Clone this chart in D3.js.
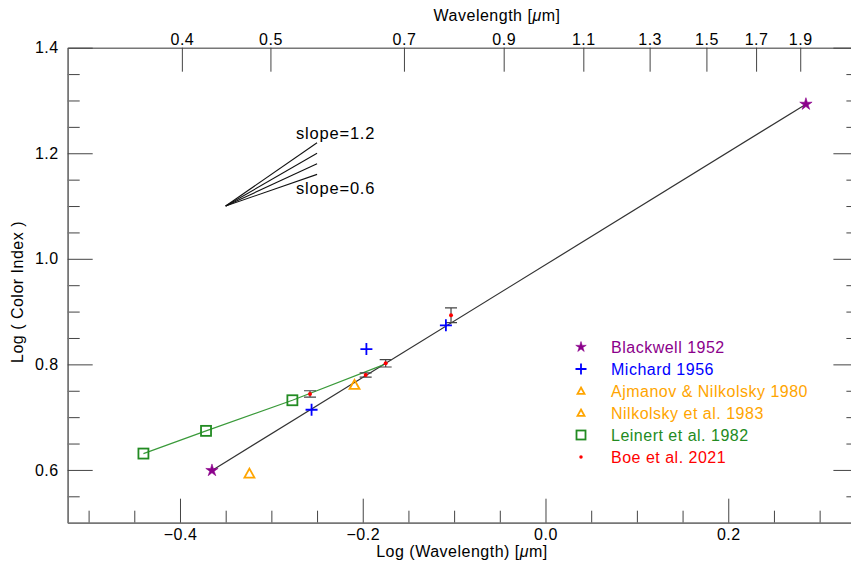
<!DOCTYPE html>
<html><head><meta charset="utf-8">
<script src="https://cdn.jsdelivr.net/npm/d3@7"></script>
<style>body{margin:0;background:#fff}svg{display:block;font-family:"Liberation Sans",Arial,Helvetica,sans-serif}
svg text{letter-spacing:0.5px}</style>
</head><body><svg id="c" width="851" height="566"></svg>
<script>
// ---- data (log10 wavelength [um], log10 color index) ----
const blackwellX = [-0.365, 0.285];
const blackwellY = [0.599, 1.293];
const michardX = [-0.256, -0.196, -0.109];
const michardY = [0.714, 0.829, 0.874];
const ajmanovX = [-0.324];
const ajmanovY = [0.593];
const nilkolskyX = [-0.209];
const nilkolskyY = [0.761];
const leinertX = [-0.440, -0.3715, -0.277];
const leinertY = [0.631, 0.674, 0.732];
const leinertLineX = [-0.440, -0.3715, -0.277, -0.1775];
const leinertLineY = [0.631, 0.674, 0.732, 0.799];
const boeX = [-0.2577, -0.1968, -0.1749, -0.1034];
const boeY = [0.744, 0.780, 0.802, 0.893];
const boeErr = [0.006, 0.004, 0.007, 0.014];
const fitX = [-0.365, 0.285];
const fitY = [0.599, 1.293];
const slopes = [1.2, 1.0, 0.8, 0.6];
const slopeOrigin = [-0.35, 1.10];
const slopeLen = 0.1;
const xMajor = [-0.4, -0.2, 0.0, 0.2];
const xMinor = [-0.5,-0.45,-0.35,-0.3,-0.25,-0.15,-0.1,-0.05,0.05,0.1,0.15,0.25,0.3];
const yMajor = [0.6, 0.8, 1.0, 1.2, 1.4];
const yMinor = [0.55,0.65,0.7,0.75,0.85,0.9,0.95,1.05,1.1,1.15,1.25,1.3,1.35];
const topWl = [0.4, 0.5, 0.7, 0.9, 1.1, 1.3, 1.5, 1.7, 1.9];
const legendNames = ["Blackwell 1952","Michard 1956","Ajmanov & Nilkolsky 1980","Nilkolsky et al. 1983","Leinert et al. 1982","Boe et al. 2021"];
const legendColors = ["#8B008B","#0000FF","#FFA500","#FFA500","#228B22","#FF0000"];
const legendMarks = ["star","plus","tri","tri","square","dot"];

const FS = "16px";
const svg = d3.select("#c");
const x = d3.scaleLinear().domain([Math.log10(0.3), Math.log10(2.2)]).range([67.7, 858.4]);
const y = d3.scaleLinear().domain([0.5, 1.4]).range([522.7, 47.7]);
const X0 = x.range()[0], X1 = x.range()[1], Y0 = y.range()[0], Y1 = y.range()[1];

function styleAxis(g){
  g.select(".domain").attr("stroke","#777").attr("stroke-width",1.5);
  g.selectAll(".tick line").attr("stroke","#444").attr("stroke-width",1);
  g.selectAll(".tick text").attr("fill","#000").style("font-size",FS).style("font-family",'"Liberation Sans",Arial,sans-serif');
}
// bottom
svg.append("g").attr("transform",`translate(0,${Y0})`).call(d3.axisBottom(x).tickValues(xMinor).tickSize(-12).tickFormat("").tickSizeOuter(0)).call(styleAxis);
svg.append("g").attr("transform",`translate(0,${Y0})`).call(d3.axisBottom(x).tickValues(xMajor).tickSize(-24).tickPadding(6).tickFormat(d3.format(".1f")).tickSizeOuter(0)).call(styleAxis);
// top
svg.append("g").attr("transform",`translate(0,${Y1})`).call(d3.axisTop(x).tickValues(topWl.map(Math.log10)).tickSize(-24).tickPadding(3).tickFormat((d,i)=>topWl[i].toFixed(1)).tickSizeOuter(0)).call(styleAxis);
// left
svg.append("g").attr("transform",`translate(${X0},0)`).call(d3.axisLeft(y).tickValues(yMinor).tickSize(-12).tickFormat("").tickSizeOuter(0)).call(styleAxis);
svg.append("g").attr("transform",`translate(${X0},0)`).call(d3.axisLeft(y).tickValues(yMajor).tickSize(-25).tickPadding(9).tickFormat(d3.format(".1f")).tickSizeOuter(0)).call(styleAxis);
// right
svg.append("g").attr("transform",`translate(${X1},0)`).call(d3.axisRight(y).tickValues(yMinor).tickSize(-12).tickFormat("").tickSizeOuter(0)).call(styleAxis);
svg.append("g").attr("transform",`translate(${X1},0)`).call(d3.axisRight(y).tickValues(yMajor).tickSize(-25).tickFormat("").tickSizeOuter(0)).call(styleAxis);

// axis titles
const tt = svg.append("text").attr("x",497).attr("y",21).attr("text-anchor","middle").style("font-size",FS);
tt.append("tspan").text("Wavelength [");
tt.append("tspan").style("font-style","italic").text("\u03bc");
tt.append("tspan").text("m]");
const bt = svg.append("text").attr("x",462).attr("y",557).attr("text-anchor","middle").style("font-size",FS);
bt.append("tspan").text("Log (Wavelength) [");
bt.append("tspan").style("font-style","italic").text("\u03bc");
bt.append("tspan").text("m]");
svg.append("text").attr("transform","translate(23,292) rotate(-90)").attr("text-anchor","middle").style("font-size",FS).text("Log ( Color Index )");

// slope fan
const fan = svg.append("g");
slopes.forEach(s=>{
  fan.append("line").attr("x1",x(slopeOrigin[0])).attr("y1",y(slopeOrigin[1]))
    .attr("x2",x(slopeOrigin[0]+slopeLen)).attr("y2",y(slopeOrigin[1]+s*slopeLen))
    .attr("stroke","#111").attr("stroke-width",1.1);
});
svg.append("text").attr("x",296).attr("y",139).style("font-size","16.5px").style("letter-spacing","0.8px").text("slope=1.2");
svg.append("text").attr("x",296).attr("y",194).style("font-size","16.5px").style("letter-spacing","0.8px").text("slope=0.6");

// fit line
const line = d3.line().x(d=>x(d[0])).y(d=>y(d[1]));
svg.append("path").attr("d",line(d3.zip(fitX,fitY))).attr("fill","none").attr("stroke","#333").attr("stroke-width",1.2);
// Leinert line
svg.append("path").attr("d",line(d3.zip(leinertLineX,leinertLineY))).attr("fill","none").attr("stroke","#3a9a3a").attr("stroke-width",1.2);

function starPath(R){
  const r = R*0.36; let p = "";
  for(let k=0;k<10;k++){
    const a = -Math.PI/2 + k*Math.PI/5, rr = k%2 ? r : R;
    p += (k? "L":"M") + (rr*Math.cos(a)).toFixed(2) + "," + (rr*Math.sin(a)).toFixed(2);
  }
  return p+"Z";
}
// markers
function mark(g, type, cx, cy, color, sz){
  if(type==="star"){
    g.append("path").attr("d",starPath(sz/2)).attr("transform",`translate(${cx},${cy})`).attr("fill",color).attr("stroke",color).attr("stroke-width",0.6);
  } else if(type==="plus"){
    const h=sz/2;
    g.append("path").attr("d",`M${cx-h},${cy}H${cx+h}M${cx},${cy-h}V${cy+h}`).attr("stroke",color).attr("stroke-width",1.8).attr("fill","none");
  } else if(type==="tri"){
    const h=sz/2;
    g.append("path").attr("d",`M${cx},${cy-h}L${cx+h},${cy+h*0.8}L${cx-h},${cy+h*0.8}Z`).attr("stroke",color).attr("stroke-width",1.8).attr("fill","none");
  } else if(type==="square"){
    const h=sz/2;
    g.append("rect").attr("x",cx-h).attr("y",cy-h).attr("width",sz).attr("height",sz).attr("stroke",color).attr("stroke-width",1.8).attr("fill","none");
  } else if(type==="dot"){
    g.append("circle").attr("cx",cx).attr("cy",cy).attr("r",sz/2).attr("fill",color);
  }
}
const pts = svg.append("g");
// Boe error bars
boeX.forEach((v,i)=>{
  const cx=x(v), t=y(boeY[i]+boeErr[i]), b=y(boeY[i]-boeErr[i]);
  pts.append("path").attr("d",`M${cx},${t}V${b}M${cx-6},${t}H${cx+6}M${cx-6},${b}H${cx+6}`).attr("stroke","#444").attr("stroke-width",1.2).attr("fill","none");
});
leinertX.forEach((v,i)=>mark(pts,"square",x(v),y(leinertY[i]),"#228B22",10));
ajmanovX.forEach((v,i)=>mark(pts,"tri",x(v),y(ajmanovY[i]),"#FFA500",10));
nilkolskyX.forEach((v,i)=>mark(pts,"tri",x(v),y(nilkolskyY[i]),"#FFA500",10));
michardX.forEach((v,i)=>mark(pts,"plus",x(v),y(michardY[i]),"#0000FF",12));
blackwellX.forEach((v,i)=>mark(pts,"star",x(v),y(blackwellY[i]),"#8B008B",13));
boeX.forEach((v,i)=>mark(pts,"dot",x(v),y(boeY[i]),"#FF0000",4));

// legend
const lg = svg.append("g");
legendNames.forEach((n,i)=>{
  const cy = 347 + i*22;
  const t = legendMarks[i];
  mark(lg, t, 581, cy, legendColors[i], t==="star"?11:t==="plus"?11:t==="tri"?7:t==="square"?9:3.5);
  lg.append("text").attr("x",611).attr("y",cy+5.5).attr("fill",legendColors[i]).style("font-size",FS).text(n);
});
</script></body></html>
